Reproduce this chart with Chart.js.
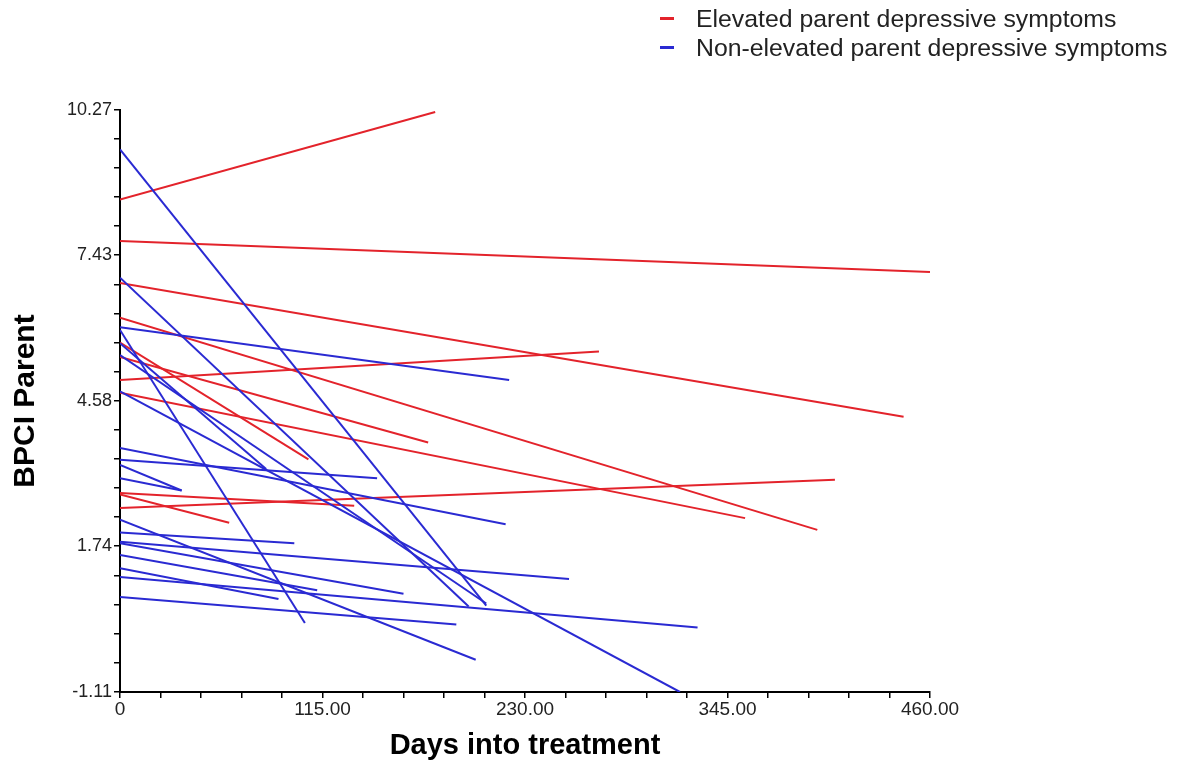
<!DOCTYPE html>
<html>
<head>
<meta charset="utf-8">
<script src="https://cdn.jsdelivr.net/npm/chart.js@4.4.1/dist/chart.umd.min.js"></script>
<style>
  html, body { margin: 0; padding: 0; background: #fff; }
  #wrap { position: relative; width: 1184px; height: 767px; }
  #legend {
    position: absolute; left: 660px; top: 4px;
    font-family: "Liberation Sans", Arial, sans-serif; font-size: 24.8px; color: #222;
  }
  #legend .item { display: flex; align-items: center; height: 29px; }
  #legend .swatch { width: 14px; height: 3px; margin-right: 22px; }
</style>
</head>
<body>
<div id="wrap">
  <canvas id="graf"></canvas>
  <div id="legend"></div>
</div>
<script>
// skupiny a barvy
const seriesNames = ["Elevated parent depressive symptoms", "Non-elevated parent depressive symptoms"];
const seriesColors = ["#e3232b", "#2a2ad2"];

// Elevated - start (den 0) a konec kazde primky
const elevStartDay = [0, 0, 0, 0, 0, 0, 0, 0, 0, 0, 0];
const elevStartScore = [8.52, 7.71, 6.89, 6.21, 5.72, 5.44, 4.99, 4.74, 2.78, 2.75, 2.49];
const elevEndDay = [179, 460, 445, 396, 107, 175, 272, 355, 133, 62, 406];
const elevEndScore = [10.23, 7.10, 4.27, 2.06, 3.44, 3.77, 5.55, 2.29, 2.53, 2.20, 3.04];

// Non-elevated
const nonStartDay = [0, 0, 0, 0, 0, 0, 0, 0, 0, 0, 0, 0, 0, 0, 0, 0, 0, 0, 0];
const nonStartScore = [9.50, 6.99, 6.02, 5.97, 5.71, 5.48, 4.77, 3.66, 3.43, 3.33, 3.07, 2.26, 2.01, 1.83, 1.80, 1.57, 1.31, 1.14, 0.75];
const nonEndDay = [208, 198, 221, 105, 83, 208, 318, 219, 146, 35, 35, 202, 99, 255, 161, 112, 90, 328, 191];
const nonEndScore = [0.58, 0.56, 4.99, 0.24, 3.25, 0.62, -1.11, 2.17, 3.07, 2.83, 2.83, -0.48, 1.80, 1.10, 0.81, 0.88, 0.71, 0.15, 0.21];

// osy
const xTickValues = [0, 115, 230, 345, 460];
const xTickLabels = ["0", "115.00", "230.00", "345.00", "460.00"];
const yTickValues = [-1.11, 1.74, 4.58, 7.43, 10.27];
const yTickLabels = ["-1.11", "1.74", "4.58", "7.43", "10.27"];

function makeSets(sx, sy, ex, ey, color) {
    const out = [];
    for (let i = 0; i < sy.length; i++) {
        out.push({
            data: [{ x: sx[i], y: sy[i] }, { x: ex[i], y: ey[i] }],
            borderColor: color,
            borderWidth: 2,
            showLine: true,
            pointRadius: 0,
            pointHoverRadius: 0
        });
    }
    return out;
}

// mezi hlavni ticky 4 vedlejsi
function subTicks(values) {
    return function(scale) {
        const t = [];
        for (let i = 0; i < values.length - 1; i++) {
            for (let k = 0; k < 5; k++) {
                t.push({ value: values[i] + (values[i + 1] - values[i]) * k / 5 });
            }
        }
        t.push({ value: values[values.length - 1] });
        scale.ticks = t;
    };
}

const datasets = makeSets(nonStartDay, nonStartScore, nonEndDay, nonEndScore, seriesColors[1])
    .concat(makeSets(elevStartDay, elevStartScore, elevEndDay, elevEndScore, seriesColors[0]));

const ctx = document.getElementById("graf").getContext("2d");
new Chart(ctx, {
    type: "scatter",
    data: { datasets: datasets },
    options: {
        responsive: true,
        maintainAspectRatio: false,
        animation: false,
        layout: { padding: { top: 110, right: 254, left: 0, bottom: 0 } },
        plugins: { legend: { display: false }, tooltip: { enabled: false } },
        scales: {
            x: {
                type: "linear",
                min: 0, max: 460,
                afterBuildTicks: subTicks(xTickValues),
                afterFit: function(scale) { scale.height = 75; },
                border: { display: true, color: "#000", width: 2 },
                grid: { display: true, drawOnChartArea: false, color: "#000", lineWidth: 1.5, tickLength: 6 },
                ticks: {
                    autoSkip: false, maxRotation: 0, padding: 0, color: "#222",
                    font: { family: "'Liberation Sans', Arial, sans-serif", size: 19 },
                    callback: function(v, i) { return i % 5 === 0 ? xTickLabels[i / 5] : ""; }
                },
                title: {
                    display: true, text: "Days into treatment", color: "#000",
                    padding: { top: 0, bottom: 4 },
                    font: { family: "'Liberation Sans', Arial, sans-serif", size: 29, weight: "bold" }
                }
            },
            y: {
                type: "linear",
                min: -1.11, max: 10.27,
                afterBuildTicks: subTicks(yTickValues),
                afterFit: function(scale) { scale.width = 120; },
                border: { display: true, color: "#000", width: 2 },
                grid: { display: true, drawOnChartArea: false, color: "#000", lineWidth: 1.5, tickLength: 6 },
                ticks: {
                    autoSkip: false, padding: 2, color: "#222",
                    font: { family: "'Liberation Sans', Arial, sans-serif", size: 18 },
                    callback: function(v, i) { return i % 5 === 0 ? yTickLabels[i / 5] : ""; }
                },
                title: {
                    display: true, text: "BPCI Parent", color: "#000",
                    padding: { top: 8, bottom: 0 },
                    font: { family: "'Liberation Sans', Arial, sans-serif", size: 30, weight: "bold" }
                }
            }
        }
    }
});

// legenda
const legend = document.getElementById("legend");
seriesNames.forEach(function(name, i) {
    const row = document.createElement("div");
    row.className = "item";
    const sw = document.createElement("span");
    sw.className = "swatch";
    sw.style.background = seriesColors[i];
    const tx = document.createElement("span");
    tx.textContent = name;
    row.appendChild(sw);
    row.appendChild(tx);
    legend.appendChild(row);
});
</script>
</body>
</html>
